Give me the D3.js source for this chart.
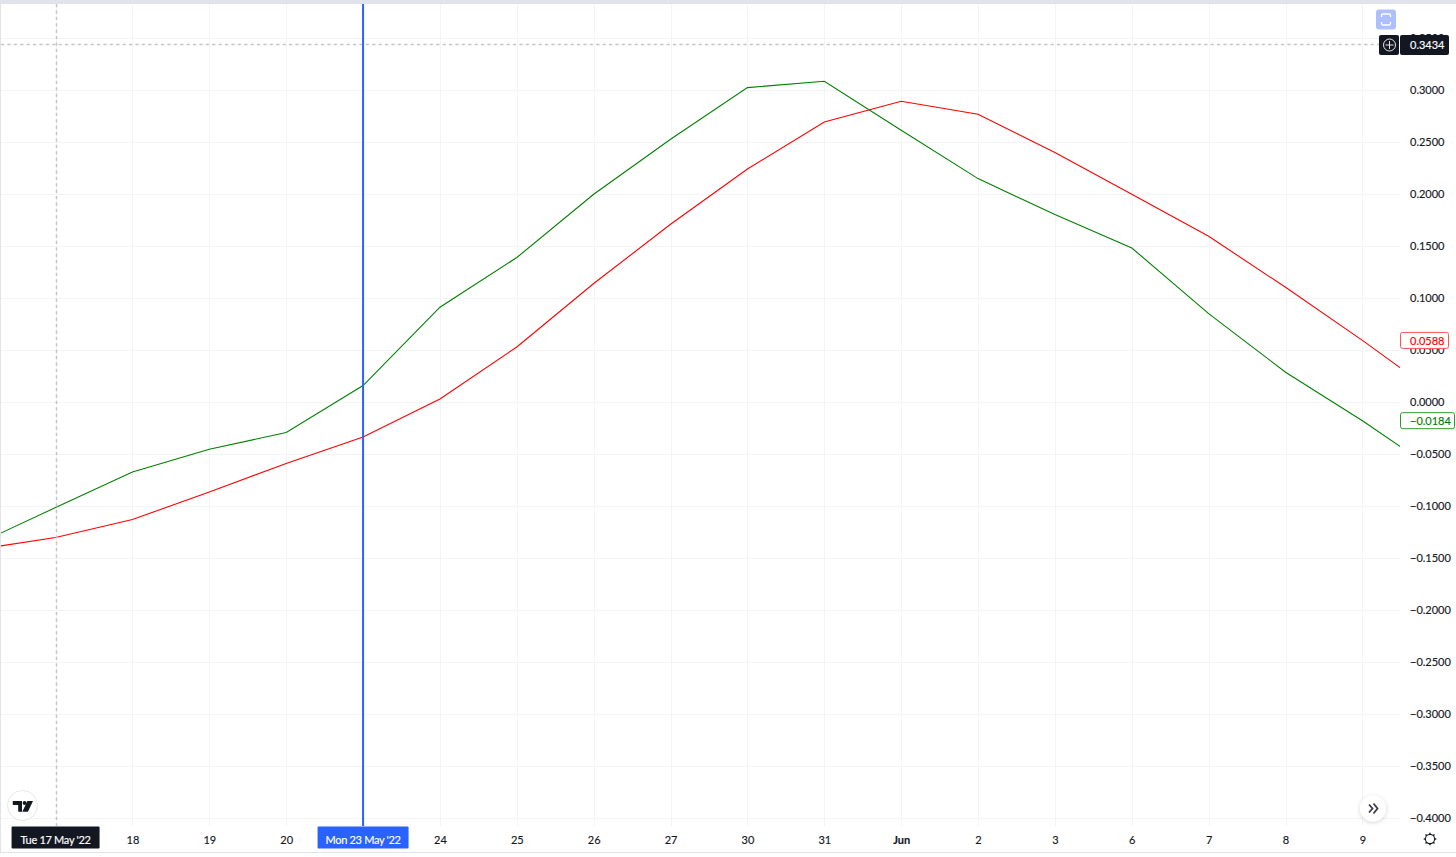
<!DOCTYPE html>
<html><head><meta charset="utf-8">
<script src="https://cdn.jsdelivr.net/npm/d3@7/dist/d3.min.js"></script>
<style>
html,body{margin:0;padding:0;background:#fff;overflow:hidden}
svg{display:block}
text{font-family:Lato,"Open Sans",sans-serif;font-size:11px;fill:#131722;stroke:#131722;stroke-width:0.15px}
</style></head><body>
<div id="chart"></div>
<script>
const categories = ["16 May","17 May","18 May","19 May","20 May","23 May","24 May","25 May","26 May","27 May","30 May","31 May","1 Jun","2 Jun","3 Jun","6 Jun","7 Jun","8 Jun","9 Jun","10 Jun"];
const redSeries = [-0.1420,-0.1308,-0.1135,-0.0869,-0.0596,-0.0340,0.0025,0.0525,0.1135,0.1705,0.2237,0.2688,0.2888,0.2763,0.2394,0.1993,0.1589,0.1099,0.0588,0.0053];
const greenSeries = [-0.1364,-0.1019,-0.0677,-0.0459,-0.0298,0.0154,0.0907,0.1385,0.1993,0.2522,0.3019,0.3080,0.2609,0.2144,0.1798,0.1477,0.0846,0.0282,-0.0184,-0.0688];
const timeTicks = ["18 May","19 May","20 May","24 May","25 May","26 May","27 May","30 May","31 May","1 Jun","2 Jun","3 Jun","6 Jun","7 Jun","8 Jun","9 Jun"];
const timeLabels = ["18","19","20","24","25","26","27","30","31","Jun","2","3","6","7","8","9"];
const priceTicks = [-0.40,-0.35,-0.30,-0.25,-0.20,-0.15,-0.10,-0.05,0,0.05,0.10,0.15,0.20,0.25,0.30,0.35];
const crossDate = "17 May", crossLabel = "Tue 17 May '22", crossPrice = 0.3434;
const markDate = "23 May", markLabel = "Mon 23 May '22";
const lastRed = 0.0588, lastGreen = -0.0184;

const W = 1456, H = 857, plotR = 1400, plotT = 4, plotB = 826;
const x = d3.scalePoint().domain(categories).range([-21.3, 1439.3]);
const y = d3.scaleLinear().domain([-0.4, 0.35]).range([817.5, 37.6]);
const fmt = d3.format(".4f");

const svg = d3.select("#chart").append("svg").attr("width", W).attr("height", H);
svg.append("defs").append("clipPath").attr("id","plot").append("rect")
  .attr("x",1).attr("y",plotT).attr("width",plotR-1).attr("height",plotB-plotT);
const shadow = svg.select("defs").append("filter").attr("id","sh")
  .attr("x","-40%").attr("y","-40%").attr("width","180%").attr("height","180%");
shadow.append("feDropShadow").attr("dx",0).attr("dy",1).attr("stdDeviation",2).attr("flood-color","#000").attr("flood-opacity",0.18);

// frame
svg.append("rect").attr("x",0).attr("y",0).attr("width",W).attr("height",4).attr("fill","#e0e3eb");
svg.append("rect").attr("x",0).attr("y",4).attr("width",1).attr("height",848).attr("fill","#e0e3eb");
svg.append("rect").attr("x",0).attr("y",852).attr("width",W).attr("height",1).attr("fill","#e0e3eb");

// grid
const grid = svg.append("g").attr("clip-path","url(#plot)");
grid.selectAll("line.v").data(categories).join("line").attr("class","v")
  .attr("x1",d=>Math.round(x(d))+0.5).attr("x2",d=>Math.round(x(d))+0.5)
  .attr("y1",plotT).attr("y2",plotB).attr("stroke","#f3f4f6");
grid.selectAll("line.h").data(priceTicks).join("line").attr("class","h")
  .attr("y1",d=>Math.round(y(d))+0.5).attr("y2",d=>Math.round(y(d))+0.5)
  .attr("x1",0).attr("x2",plotR).attr("stroke","#f3f4f6");

// axes
const yAxis = d3.axisRight(y).tickValues(priceTicks).tickFormat(fmt).tickSize(0).tickPadding(0);
svg.append("g").attr("transform","translate(1410,0.2)").call(yAxis)
  .call(g=>g.select(".domain").remove());
const xAxis = d3.axisBottom(x).tickValues(timeTicks)
  .tickFormat(d=>timeLabels[timeTicks.indexOf(d)]).tickSize(0).tickPadding(0);
svg.append("g").attr("transform","translate(0,836)").call(xAxis)
  .call(g=>g.select(".domain").remove())
  .call(g=>g.selectAll("text").attr("font-weight",d=>d==="1 Jun"?"700":null));

// lines
const lineGen = d3.line().x((d,i)=>x(categories[i])).y(d=>y(d));
const lines = svg.append("g").attr("clip-path","url(#plot)");
lines.append("path").datum(greenSeries).attr("d",lineGen).attr("fill","none").attr("stroke","#008000").attr("stroke-width",1.1);
lines.append("path").datum(redSeries).attr("d",lineGen).attr("fill","none").attr("stroke","#ff0000").attr("stroke-width",1.1);

// crosshair
const cx = Math.round(x(crossDate))+0.5, cy = Math.round(y(crossPrice))+0.5;
svg.append("line").attr("x1",cx).attr("x2",cx).attr("y1",plotT).attr("y2",plotB)
  .attr("stroke","#c4c5c9").attr("stroke-width",1.5).attr("stroke-dasharray","3.3 3.1");
svg.append("line").attr("x1",1).attr("x2",1379).attr("y1",cy).attr("y2",cy)
  .attr("stroke","#c4c5c9").attr("stroke-width",1.5).attr("stroke-dasharray","3.3 3.1");

// vertical marker
const mx = x(markDate);
svg.append("line").attr("x1",mx).attr("x2",mx).attr("y1",plotT).attr("y2",plotB)
  .attr("stroke","#2962ff").attr("stroke-width",2);

// time labels
function timeTag(cxv, w, fill, label){
  svg.append("rect").attr("x",cxv-w/2).attr("y",826.5).attr("width",w).attr("height",22).attr("rx",1).attr("fill",fill);
  svg.append("text").attr("x",cxv).attr("y",844).attr("text-anchor","middle")
    .style("fill","#fff").style("stroke","#fff").style("letter-spacing","-0.3px").text(label);
}
timeTag(x(crossDate), 88, "#131722", crossLabel);
timeTag(mx, 91, "#2962ff", markLabel);

// price tags
function priceTag(v, w, col, textCol){
  const c = y(v)+0.5;
  svg.append("rect").attr("x",1400.5).attr("y",c-8.5).attr("width",w).attr("height",16).attr("rx",2)
    .attr("fill","#fff").attr("stroke",col);
  svg.append("text").attr("x",1410).attr("y",c+4).style("fill",textCol).style("stroke",textCol).text(fmt(v));
}
priceTag(lastRed, 48, "#ff5252", "#ff0000");
priceTag(lastGreen, 54, "#2c9a2c", "#008000");

// crosshair price label
svg.append("rect").attr("x",1379).attr("y",35).attr("width",20).attr("height",20).attr("rx",2).attr("fill","#131722");
svg.append("rect").attr("x",1400).attr("y",35).attr("width",49).attr("height",20).attr("rx",2).attr("fill","#131722");
svg.append("circle").attr("cx",1389.5).attr("cy",45).attr("r",6).attr("fill","none").attr("stroke","#e6e6e6");
svg.append("path").attr("d","M1385.5 45H1393.5M1389.5 41V49").attr("stroke","#e6e6e6");
svg.append("text").attr("x",1410).attr("y",49).style("fill","#fff").style("stroke","#fff").text(fmt(crossPrice));

// reset-scale button
svg.append("rect").attr("x",1376).attr("y",9.5).attr("width",20).attr("height",20).attr("rx",3).attr("fill","#aebffd");
svg.append("path").attr("d","M1381.5 17V15.5Q1381.5 14 1383 14H1389Q1390.5 14 1390.5 15.5V17M1381.5 22V23.5Q1381.5 25 1383 25H1389Q1390.5 25 1390.5 23.5V22")
  .attr("fill","none").attr("stroke","#fff").attr("stroke-width",1.3);

// logo
svg.append("circle").attr("cx",22.5).attr("cy",805.5).attr("r",15).attr("fill","#fff").attr("stroke","#e8e8ea");
svg.append("path").attr("d","M12.8 801H22V811.7H18.2V805H12.8ZM27.4 801H33L27.9 811.7H22.3Z").attr("fill","#131722");
svg.append("circle").attr("cx",24.6).attr("cy",803).attr("r",2).attr("fill","#131722");

// scroll button
svg.append("circle").attr("cx",1373).attr("cy",808.5).attr("r",13).attr("fill","#fff").attr("filter","url(#sh)");
svg.append("path").attr("d","M1369 804.5L1372.5 808.5L1369 812.5M1373.5 803.5L1377.5 808.5L1373.5 813.5")
  .attr("fill","none").attr("stroke","#3a3e4a").attr("stroke-width",1.8);

// settings gear
const gear = svg.append("g").attr("transform","translate(1430,839)");
gear.append("circle").attr("r",4.6).attr("fill","none").attr("stroke","#131722").attr("stroke-width",1.1);
gear.selectAll("line").data(d3.range(8)).join("line")
  .attr("x1",0).attr("x2",0).attr("y1",-4.6).attr("y2",-6.3)
  .attr("transform",d=>`rotate(${d*45})`).attr("stroke","#131722").attr("stroke-width",1.4);
</script>
</body></html>
